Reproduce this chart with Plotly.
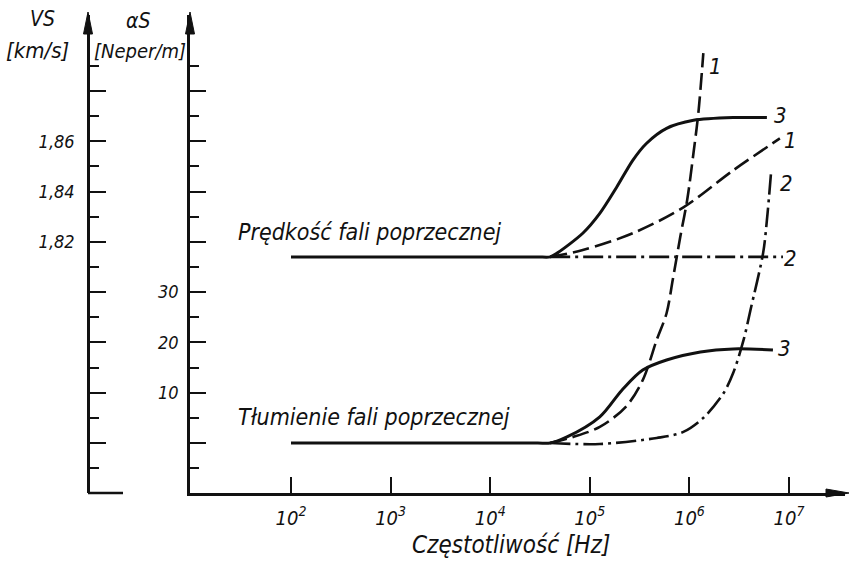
import plotly.graph_objects as go

# ---------------- data ----------------
# Velocity of the shear wave VS [km/s]
vel_f_3 = [1e2, 1e3, 1e4, 3.0e4, 4.0e4, 4.7e4, 8.5e4, 1.26e5, 1.86e5, 2.7e5, 3.7e5, 5.9e5, 1.1e6, 2.75e6, 6.0e6]
vel_3 = [1.814, 1.814, 1.814, 1.814, 1.814, 1.8155, 1.8234, 1.8313, 1.8417, 1.8524, 1.8591, 1.8651, 1.8683, 1.8694, 1.8694]
vel_f_1 = [4.0e4, 8.5e4, 2.7e5, 8.7e5, 2.75e6, 8.1e6]
vel_1 = [1.814, 1.8167, 1.8234, 1.8337, 1.8484, 1.8611]
vel_f_2 = [4.0e4, 8.7e6]
vel_2 = [1.814, 1.814]

# Attenuation of the shear wave alphaS [Neper/m]
att_f_3 = [1e2, 1e3, 1e4, 3.0e4, 4.0e4, 5.9e4, 1.26e5, 2.1e5, 3.4e5, 5.9e5, 1.29e6, 2.75e6, 6.9e6]
att_3 = [0, 0, 0, 0, 0, 1.2, 5.2, 10.5, 14.5, 16.5, 18.1, 18.7, 18.5]
att_f_1 = [4.0e4, 6.8e4, 1.26e5, 2.3e5, 3.4e5, 4.7e5, 5.9e5, 6.8e5, 8.1e5, 9.5e5, 1.1e6, 1.23e6, 1.38e6]
att_1 = [0, 1.2, 3.2, 7.2, 12.5, 20.5, 25.8, 32.4, 41.0, 48.3, 57.7, 65.6, 77.5]
att_f_2 = [4.0e4, 1.26e5, 4.7e5, 8.7e5, 1.38e6, 2.2e6, 2.75e6, 3.5e6, 4.1e6, 5.5e6, 6.0e6, 6.6e6]
att_2 = [0, -0.2, 1.0, 2.2, 5.0, 9.9, 13.9, 20.5, 26.4, 37.8, 44.3, 53.7]

x_tickvals = [1e2, 1e3, 1e4, 1e5, 1e6, 1e7]
x_ticktext = ["10<sup>2</sup>", "10<sup>3</sup>", "10<sup>4</sup>", "10<sup>5</sup>", "10<sup>6</sup>", "10<sup>7</sup>"]
att_labeled = [10, 20, 30]
att_labeled_text = ["10", "20", "30"]
att_long = [0, 40, 50, 60, 70]
att_short = [-5, 5, 15, 25, 35, 45, 55, 65, 75]
vel_labeled = [1.82, 1.84, 1.86]
vel_labeled_text = ["1,82", "1,84", "1,86"]
vel_long = [1.74, 1.76, 1.78, 1.80, 1.88]
vel_short = [1.73, 1.75, 1.77, 1.79, 1.81, 1.83, 1.85, 1.87, 1.89]

# ---------------- styling ----------------
W, H = 849, 565
L, R, T, B = 88, 4, 15, 72
PW, PH = W - L - R, H - T - B
FONT = "DejaVu Sans Condensed, Liberation Sans Narrow, DejaVu Sans, sans-serif"
INK = "#111111"


def px(x, y):
    return (x - L) / PW, (H - B - y) / PH


fig = go.Figure()

solid = dict(color=INK, width=3)
dashed = dict(color=INK, width=2.6, dash="17px,6px")
dashdot = dict(color=INK, width=2.6, dash="20px,5px,3px,5px")

fig.add_trace(go.Scatter(x=vel_f_2, y=vel_2, yaxis="y2", mode="lines", line=dashdot))
fig.add_trace(go.Scatter(x=vel_f_1, y=vel_1, yaxis="y2", mode="lines", line=dashed, line_shape="spline", line_smoothing=0.9))
fig.add_trace(go.Scatter(x=vel_f_3, y=vel_3, yaxis="y2", mode="lines", line=solid, line_shape="spline", line_smoothing=0.8))
fig.add_trace(go.Scatter(x=att_f_2, y=att_2, mode="lines", line=dashdot, line_shape="spline", line_smoothing=0.9))
fig.add_trace(go.Scatter(x=att_f_1, y=att_1, mode="lines", line=dashed, line_shape="spline", line_smoothing=0.9))
fig.add_trace(go.Scatter(x=att_f_3, y=att_3, mode="lines", line=solid, line_shape="spline", line_smoothing=0.9))
# empty traces so that the tick-only overlay axes get drawn
fig.add_trace(go.Scatter(x=[None], y=[None], yaxis="y3", mode="lines", hoverinfo="skip"))
fig.add_trace(go.Scatter(x=[None], y=[None], yaxis="y4", mode="lines", hoverinfo="skip"))

tickfont = dict(family=FONT, size=18, color=INK, style="italic")

att_lo, att_hi = -50 / 5.03, 428 / 5.03
vel_lo = 1.80 + (att_lo - 30) * 0.002
vel_hi = 1.80 + (att_hi - 30) * 0.002
x_lo = 2 + (190 - 291) / 99.6
x_hi = 2 + (845 - 291) / 99.6

common_y = dict(showgrid=False, zeroline=False, showline=True, linecolor=INK, linewidth=2.5,
                ticks="inside", ticklen=16, tickwidth=2, tickcolor=INK, tickmode="array")

fig.update_layout(
    width=W, height=H,
    margin=dict(l=L, r=R, t=T, b=B, autoexpand=False),
    paper_bgcolor="white", plot_bgcolor="white",
    showlegend=False,
    xaxis=dict(
        type="log", range=[x_lo, x_hi], domain=[(190 - L) / PW, 1],
        showgrid=False, zeroline=False, showline=True, linecolor=INK, linewidth=2.5,
        tickmode="array", tickvals=x_tickvals, ticktext=x_ticktext,
        ticks="inside", ticklen=16, tickwidth=2, tickcolor=INK,
        tickfont=dict(family=FONT, size=20, color=INK, style="italic"), ticklabelstandoff=5,
    ),
    yaxis=dict(
        range=[att_lo, att_hi], tickvals=att_labeled, ticktext=att_labeled_text,
        minor=dict(tickmode="array", tickvals=att_short, ticks="inside", ticklen=9, tickwidth=2, tickcolor=INK),
        tickfont=tickfont, ticklabelstandoff=5, **common_y,
    ),
    yaxis3=dict(
        range=[att_lo, att_hi], overlaying="y", anchor="x", side="left",
        tickvals=att_long, showticklabels=False, **common_y,
    ),
    yaxis2=dict(
        range=[vel_lo, vel_hi], overlaying="y", anchor="free", position=0, side="left",
        tickvals=vel_labeled, ticktext=vel_labeled_text,
        minor=dict(tickmode="array", tickvals=vel_short, ticks="inside", ticklen=9, tickwidth=2, tickcolor=INK),
        tickfont=tickfont, ticklabelstandoff=9, **common_y,
    ),
    yaxis4=dict(
        range=[vel_lo, vel_hi], overlaying="y", anchor="free", position=0, side="left",
        tickvals=vel_long, showticklabels=False, **common_y,
    ),
)

shapes = []
# arrowheads on the axes
for ax_x in (88, 190):
    x0, y0 = px(ax_x, 12)
    x1, y1 = px(ax_x - 4.5, 34)
    x2, y2 = px(ax_x + 4.5, 34)
    shapes.append(dict(type="path", xref="paper", yref="paper",
                       path=f"M {x0} {y0} L {x1} {y1} L {x2} {y2} Z",
                       fillcolor=INK, line=dict(color=INK, width=1)))
x0, y0 = px(849, 493)
x1, y1 = px(826, 489)
x2, y2 = px(826, 497)
shapes.append(dict(type="path", xref="paper", yref="paper",
                   path=f"M {x0} {y0} L {x1} {y1} L {x2} {y2} Z",
                   fillcolor=INK, line=dict(color=INK, width=1)))
# stub at bottom of VS axis
a0, b0 = px(88, 493)
a1, b1 = px(123, 493)
shapes.append(dict(type="line", xref="paper", yref="paper", x0=a0, y0=b0, x1=a1, y1=b1,
                   line=dict(color=INK, width=2.5)))
fig.update_layout(shapes=shapes)


def label(text, x, y, size=19, xanchor="center"):
    xp, yp = px(x, y)
    fig.add_annotation(text=text, x=xp, y=yp, xref="paper", yref="paper", showarrow=False,
                       xanchor=xanchor, yanchor="middle",
                       font=dict(family=FONT, size=size, color=INK, style="italic"))


label("VS", 42, 19, 21)
label("[km/s]", 38, 50, 22)
label("αS", 138, 21, 21)
label("[Neper/m]", 140, 51, 20)
label("Prędkość fali poprzecznej", 236, 232, 23, "left")
label("Tłumienie fali poprzecznej", 236, 417, 23, "left")
label("Częstotliwość [Hz]", 511, 545, 24)
# curve numbers
label("3", 780, 115, 22)
label("1", 790, 140, 22)
label("2", 790, 258, 22)
label("1", 715, 67, 22)
label("2", 786, 183, 22)
label("3", 784, 348, 22)

fig.write_html("out.html", config={"displayModeBar": False},
               post_script="document.body.style.margin='0';document.body.style.overflow='hidden';")
